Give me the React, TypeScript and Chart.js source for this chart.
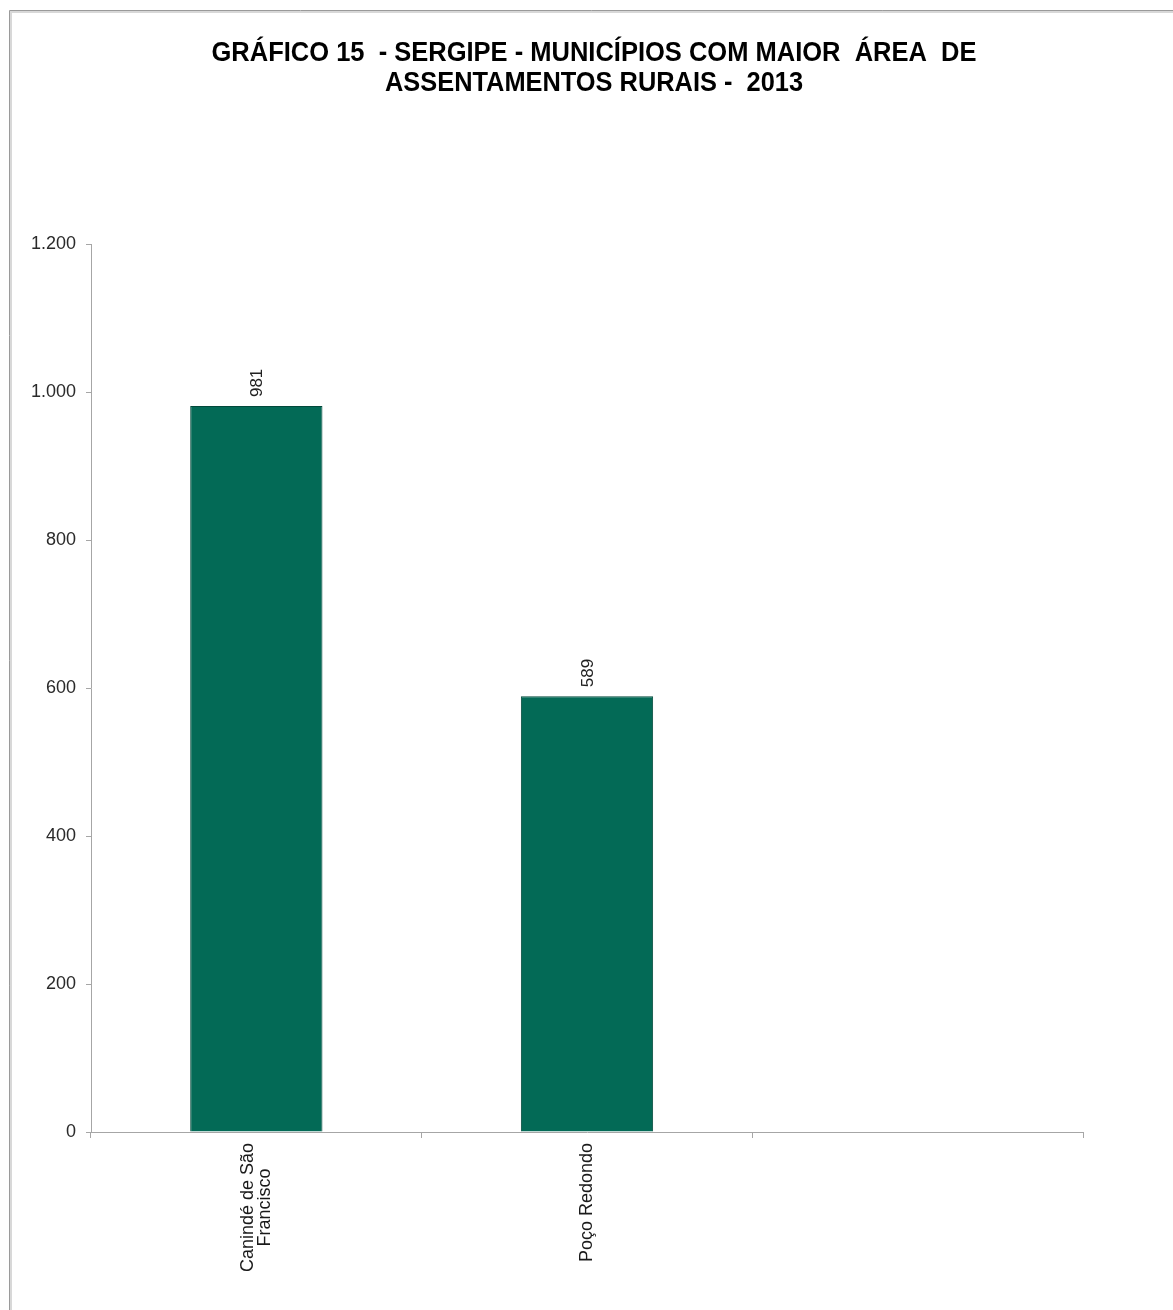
import React, { useEffect, useRef } from "react";
import { Chart, registerables } from "chart.js";

Chart.register(...registerables);

const titleLines = [
  "GRÁFICO 15  - SERGIPE - MUNICÍPIOS COM MAIOR  ÁREA  DE",
  "ASSENTAMENTOS RURAIS -  2013",
];
const categories: string[][] = [["Canindé de São", "Francisco"], ["Poço Redondo"], [""]];
const values: (number | null)[] = [981, 589, null];
const yTicksMax = 1200;
const yTickStep = 200;

const BAR_COLOR = "#036a56";
const FONT = "'Liberation Sans', Arial, sans-serif";

function fmt(v: number): string {
  return Math.round(v)
    .toString()
    .replace(/\B(?=(\d{3})+(?!\d))/g, ".");
}

const framePlugin = {
  id: "frame",
  beforeDraw(chart: any) {
    const ctx = chart.ctx;
    ctx.save();
    ctx.fillStyle = "#ffffff";
    ctx.fillRect(0, 0, chart.width, chart.height);
    ctx.strokeStyle = "#d8d8d8";
    ctx.lineWidth = 2;
    ctx.beginPath();
    ctx.moveTo(11, chart.height);
    ctx.lineTo(11, 12);
    ctx.lineTo(chart.width, 12);
    ctx.stroke();
    ctx.strokeStyle = "#9a9a9a";
    ctx.lineWidth = 1;
    ctx.beginPath();
    ctx.moveTo(9.5, chart.height);
    ctx.lineTo(9.5, 10.5);
    ctx.lineTo(chart.width, 10.5);
    ctx.stroke();
    ctx.restore();
  },
};

const textPlugin = {
  id: "texts",
  afterDraw(chart: any) {
    const ctx = chart.ctx;
    ctx.save();
    // title
    ctx.fillStyle = "#000000";
    ctx.font = `bold 27px ${FONT}`;
    ctx.textAlign = "center";
    ctx.textBaseline = "alphabetic";
    ctx.fillText(titleLines[0], 594, 61, 765);
    ctx.fillText(titleLines[1], 594, 91, 418);

    // category labels
    const xScale = chart.scales.x;
    ctx.fillStyle = "#1a1a1a";
    ctx.font = `18px ${FONT}`;
    const lineH = 17;
    categories.forEach((lines, i) => {
      const x = xScale.getPixelForValue(i);
      const maxW = Math.max(...lines.map((l) => ctx.measureText(l).width));
      ctx.save();
      ctx.translate(x, chart.chartArea.bottom + 11);
      ctx.rotate(-Math.PI / 2);
      ctx.textAlign = "center";
      ctx.textBaseline = "middle";
      lines.forEach((l, k) => {
        ctx.fillText(l, -maxW / 2, (k - (lines.length - 1) / 2) * lineH);
      });
      ctx.restore();
    });

    // data labels
    const meta = chart.getDatasetMeta(0);
    ctx.font = `17px ${FONT}`;
    ctx.fillStyle = "#222222";
    meta.data.forEach((bar: any, i: number) => {
      const v = values[i];
      if (v === null || v === undefined) return;
      ctx.save();
      ctx.translate(bar.x, bar.y - 9);
      ctx.rotate(-Math.PI / 2);
      ctx.textAlign = "left";
      ctx.textBaseline = "middle";
      ctx.fillText(fmt(v), 0, 1);
      ctx.restore();
    });
    ctx.restore();
  },
};

export default function App() {
  const ref = useRef<HTMLCanvasElement | null>(null);
  useEffect(() => {
    if (!ref.current) return;
    const chart = new Chart(ref.current, {
      type: "bar",
      data: {
        labels: categories.map((c) => c.join(" ")),
        datasets: [
          {
            data: values,
            backgroundColor: BAR_COLOR,
            borderColor: "#02493b",
            borderWidth: 1,
            barPercentage: 0.4,
            categoryPercentage: 1,
          },
        ],
      },
      options: {
        animation: false,
        responsive: false,
        maintainAspectRatio: false,
        layout: { padding: { top: 244, right: 90, left: 0, bottom: 0 } },
        plugins: {
          legend: { display: false },
          title: { display: false },
          tooltip: { enabled: false },
        },
        scales: {
          x: {
            offset: true,
            grid: {
              offset: true,
              drawOnChartArea: false,
              drawTicks: true,
              tickLength: 6,
              color: "#a6a6a6",
            },
            border: { color: "#a6a6a6", width: 1 },
            ticks: { display: true, callback: () => "" },
            afterFit: (s: any) => {
              s.height = 1310 - 1132;
            },
          },
          y: {
            min: 0,
            max: yTicksMax,
            ticks: {
              stepSize: yTickStep,
              callback: (v: any) => fmt(Number(v)),
              color: "#2a2a2a",
              font: { family: FONT, size: 18 },
              padding: 10,
            },
            grid: {
              drawOnChartArea: false,
              drawTicks: true,
              tickLength: 5,
              color: "#a6a6a6",
            },
            border: { color: "#a6a6a6", width: 1 },
            afterFit: (s: any) => {
              s.width = 91;
            },
          },
        },
      },
      plugins: [framePlugin, textPlugin],
    });
    return () => chart.destroy();
  }, []);
  return (
    <div style={{ position: "absolute", left: 0, top: 0, width: 1173, height: 1310 }}>
      <canvas ref={ref} width={1173} height={1310} style={{ display: "block" }} />
    </div>
  );
}
